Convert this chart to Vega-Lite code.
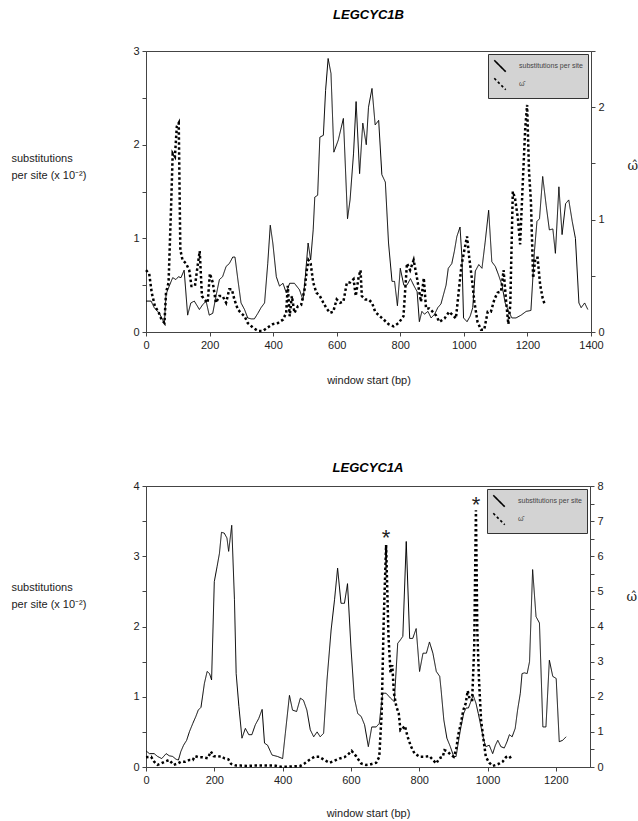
{
  "$schema": "https://vega.github.io/schema/vega-lite/v6.json",
  "padding": {"left": 10, "top": 8, "right": 0, "bottom": 0},
  "datasets": {
    "b_sub": [
      {"start":0,"value":0.33},{"start":16,"value":0.33},{"start":26,"value":0.26},{"start":42,"value":0.2},{"start":52,"value":0.13},{"start":58,"value":0.1},{"start":63,"value":0.4},{"start":73,"value":0.49},{"start":84,"value":0.58},{"start":94,"value":0.56},{"start":102,"value":0.59},{"start":110,"value":0.58},{"start":120,"value":0.66},{"start":131,"value":0.18},{"start":141,"value":0.31},{"start":152,"value":0.33},{"start":168,"value":0.24},{"start":178,"value":0.29},{"start":189,"value":0.33},{"start":199,"value":0.18},{"start":210,"value":0.2},{"start":220,"value":0.38},{"start":231,"value":0.56},{"start":241,"value":0.59},{"start":252,"value":0.7},{"start":262,"value":0.73},{"start":273,"value":0.8},{"start":280,"value":0.8},{"start":289,"value":0.56},{"start":299,"value":0.31},{"start":310,"value":0.24},{"start":320,"value":0.15},{"start":331,"value":0.14},{"start":341,"value":0.14},{"start":352,"value":0.2},{"start":362,"value":0.26},{"start":373,"value":0.31},{"start":383,"value":0.73},{"start":391,"value":1.14},{"start":399,"value":0.95},{"start":410,"value":0.59},{"start":420,"value":0.49},{"start":431,"value":0.52},{"start":441,"value":0.42},{"start":452,"value":0.52},{"start":467,"value":0.52},{"start":483,"value":0.45},{"start":494,"value":0.34},{"start":501,"value":0.58},{"start":510,"value":0.95},{"start":518,"value":0.77},{"start":526,"value":1.09},{"start":531,"value":1.44},{"start":540,"value":1.46},{"start":547,"value":2.08},{"start":558,"value":2.1},{"start":565,"value":2.58},{"start":573,"value":2.92},{"start":582,"value":2.76},{"start":591,"value":1.92},{"start":605,"value":2.05},{"start":621,"value":2.28},{"start":634,"value":1.21},{"start":642,"value":1.41},{"start":653,"value":1.91},{"start":661,"value":2.46},{"start":672,"value":1.69},{"start":682,"value":2.23},{"start":693,"value":2.0},{"start":700,"value":2.4},{"start":711,"value":2.6},{"start":721,"value":2.21},{"start":732,"value":2.26},{"start":742,"value":1.68},{"start":753,"value":1.6},{"start":763,"value":0.95},{"start":774,"value":0.54},{"start":782,"value":0.54},{"start":791,"value":0.28},{"start":800,"value":0.68},{"start":811,"value":0.5},{"start":821,"value":0.5},{"start":832,"value":0.57},{"start":842,"value":0.5},{"start":853,"value":0.43},{"start":860,"value":0.11},{"start":868,"value":0.22},{"start":876,"value":0.19},{"start":887,"value":0.22},{"start":897,"value":0.15},{"start":908,"value":0.19},{"start":918,"value":0.26},{"start":928,"value":0.3},{"start":944,"value":0.5},{"start":951,"value":0.68},{"start":962,"value":0.73},{"start":970,"value":0.86},{"start":978,"value":1.02},{"start":988,"value":1.12},{"start":994,"value":0.79},{"start":999,"value":0.15},{"start":1010,"value":0.11},{"start":1020,"value":0.17},{"start":1028,"value":0.26},{"start":1036,"value":0.65},{"start":1047,"value":0.72},{"start":1057,"value":0.68},{"start":1067,"value":0.96},{"start":1078,"value":1.3},{"start":1088,"value":0.75},{"start":1099,"value":0.7},{"start":1109,"value":0.61},{"start":1120,"value":0.5},{"start":1130,"value":0.31},{"start":1141,"value":0.22},{"start":1151,"value":0.15},{"start":1164,"value":0.15},{"start":1180,"value":0.18},{"start":1196,"value":0.22},{"start":1211,"value":0.23},{"start":1222,"value":0.86},{"start":1230,"value":1.18},{"start":1238,"value":1.21},{"start":1248,"value":1.66},{"start":1259,"value":1.35},{"start":1269,"value":1.09},{"start":1280,"value":1.1},{"start":1288,"value":0.84},{"start":1299,"value":1.55},{"start":1309,"value":1.04},{"start":1320,"value":1.37},{"start":1330,"value":1.41},{"start":1341,"value":1.18},{"start":1351,"value":1.0},{"start":1362,"value":0.31},{"start":1369,"value":0.26},{"start":1380,"value":0.31},{"start":1390,"value":0.24}
    ],
    "b_omega": [
      {"start":0,"value":0.55},{"start":10,"value":0.52},{"start":18,"value":0.35},{"start":28,"value":0.23},{"start":39,"value":0.18},{"start":49,"value":0.11},{"start":58,"value":0.08},{"start":63,"value":0.35},{"start":71,"value":0.44},{"start":79,"value":1.12},{"start":84,"value":1.59},{"start":91,"value":1.56},{"start":97,"value":1.83},{"start":103,"value":1.86},{"start":108,"value":0.73},{"start":115,"value":0.64},{"start":126,"value":0.61},{"start":136,"value":0.55},{"start":143,"value":0.41},{"start":154,"value":0.41},{"start":162,"value":0.58},{"start":169,"value":0.72},{"start":176,"value":0.32},{"start":183,"value":0.29},{"start":194,"value":0.26},{"start":201,"value":0.52},{"start":210,"value":0.44},{"start":220,"value":0.26},{"start":231,"value":0.32},{"start":241,"value":0.32},{"start":252,"value":0.26},{"start":262,"value":0.38},{"start":270,"value":0.38},{"start":278,"value":0.29},{"start":289,"value":0.2},{"start":299,"value":0.17},{"start":310,"value":0.14},{"start":320,"value":0.08},{"start":336,"value":0.04},{"start":352,"value":0.01},{"start":368,"value":0.01},{"start":383,"value":0.04},{"start":399,"value":0.07},{"start":415,"value":0.08},{"start":431,"value":0.11},{"start":441,"value":0.17},{"start":446,"value":0.41},{"start":452,"value":0.14},{"start":459,"value":0.32},{"start":467,"value":0.17},{"start":478,"value":0.23},{"start":488,"value":0.24},{"start":499,"value":0.38},{"start":506,"value":0.55},{"start":511,"value":0.64},{"start":518,"value":0.61},{"start":526,"value":0.44},{"start":536,"value":0.35},{"start":547,"value":0.32},{"start":558,"value":0.26},{"start":568,"value":0.21},{"start":579,"value":0.17},{"start":589,"value":0.18},{"start":600,"value":0.29},{"start":611,"value":0.26},{"start":621,"value":0.27},{"start":632,"value":0.44},{"start":642,"value":0.44},{"start":653,"value":0.47},{"start":660,"value":0.32},{"start":669,"value":0.49},{"start":675,"value":0.55},{"start":679,"value":0.32},{"start":690,"value":0.29},{"start":700,"value":0.29},{"start":711,"value":0.26},{"start":721,"value":0.18},{"start":732,"value":0.15},{"start":748,"value":0.11},{"start":763,"value":0.07},{"start":779,"value":0.05},{"start":795,"value":0.08},{"start":810,"value":0.14},{"start":821,"value":0.61},{"start":831,"value":0.55},{"start":842,"value":0.64},{"start":852,"value":0.49},{"start":865,"value":0.27},{"start":874,"value":0.48},{"start":881,"value":0.21},{"start":891,"value":0.21},{"start":902,"value":0.18},{"start":912,"value":0.15},{"start":923,"value":0.09},{"start":939,"value":0.12},{"start":954,"value":0.18},{"start":965,"value":0.15},{"start":975,"value":0.12},{"start":986,"value":0.42},{"start":993,"value":0.6},{"start":1001,"value":0.72},{"start":1010,"value":0.85},{"start":1017,"value":0.66},{"start":1025,"value":0.48},{"start":1033,"value":0.27},{"start":1043,"value":0.09},{"start":1054,"value":0.02},{"start":1064,"value":0.02},{"start":1075,"value":0.18},{"start":1085,"value":0.18},{"start":1096,"value":0.29},{"start":1106,"value":0.35},{"start":1117,"value":0.36},{"start":1125,"value":0.55},{"start":1133,"value":0.27},{"start":1140,"value":0.07},{"start":1146,"value":0.24},{"start":1154,"value":1.25},{"start":1161,"value":1.19},{"start":1170,"value":1.01},{"start":1177,"value":0.78},{"start":1186,"value":1.37},{"start":1193,"value":1.81},{"start":1199,"value":2.02},{"start":1205,"value":1.43},{"start":1211,"value":1.16},{"start":1218,"value":0.48},{"start":1225,"value":0.66},{"start":1232,"value":0.66},{"start":1240,"value":0.42},{"start":1248,"value":0.3},{"start":1255,"value":0.24}
    ],
    "a_sub": [
      {"start":0,"value":0.23},{"start":10,"value":0.19},{"start":24,"value":0.19},{"start":34,"value":0.15},{"start":46,"value":0.12},{"start":59,"value":0.19},{"start":68,"value":0.16},{"start":78,"value":0.15},{"start":88,"value":0.11},{"start":95,"value":0.1},{"start":102,"value":0.22},{"start":110,"value":0.31},{"start":119,"value":0.38},{"start":127,"value":0.5},{"start":137,"value":0.62},{"start":146,"value":0.72},{"start":153,"value":0.81},{"start":161,"value":0.85},{"start":171,"value":1.19},{"start":179,"value":1.36},{"start":186,"value":1.33},{"start":192,"value":1.24},{"start":200,"value":2.64},{"start":208,"value":2.85},{"start":215,"value":3.04},{"start":221,"value":3.34},{"start":229,"value":3.33},{"start":237,"value":3.26},{"start":242,"value":3.07},{"start":251,"value":3.44},{"start":259,"value":2.38},{"start":264,"value":1.33},{"start":272,"value":0.86},{"start":281,"value":0.41},{"start":291,"value":0.55},{"start":301,"value":0.46},{"start":310,"value":0.46},{"start":320,"value":0.6},{"start":330,"value":0.69},{"start":340,"value":0.82},{"start":347,"value":0.34},{"start":356,"value":0.31},{"start":369,"value":0.17},{"start":385,"value":0.15},{"start":400,"value":0.12},{"start":408,"value":0.48},{"start":420,"value":1.02},{"start":429,"value":0.81},{"start":441,"value":0.79},{"start":452,"value":0.98},{"start":461,"value":0.95},{"start":471,"value":0.81},{"start":481,"value":0.53},{"start":491,"value":0.43},{"start":501,"value":0.5},{"start":510,"value":0.43},{"start":520,"value":0.48},{"start":530,"value":1.24},{"start":542,"value":1.95},{"start":552,"value":2.38},{"start":561,"value":2.83},{"start":571,"value":2.33},{"start":581,"value":2.33},{"start":590,"value":2.61},{"start":600,"value":1.71},{"start":610,"value":0.98},{"start":620,"value":0.76},{"start":630,"value":0.72},{"start":640,"value":0.6},{"start":651,"value":0.29},{"start":661,"value":0.57},{"start":674,"value":0.57},{"start":683,"value":0.62},{"start":693,"value":1.05},{"start":703,"value":1.05},{"start":716,"value":0.98},{"start":727,"value":0.93},{"start":737,"value":1.76},{"start":745,"value":1.81},{"start":752,"value":1.86},{"start":762,"value":3.21},{"start":772,"value":1.83},{"start":781,"value":1.83},{"start":791,"value":1.97},{"start":801,"value":1.36},{"start":811,"value":1.62},{"start":821,"value":1.62},{"start":830,"value":1.78},{"start":840,"value":1.62},{"start":850,"value":1.36},{"start":860,"value":1.29},{"start":864,"value":1.1},{"start":872,"value":0.67},{"start":881,"value":0.41},{"start":891,"value":0.29},{"start":901,"value":0.15},{"start":908,"value":0.15},{"start":914,"value":0.34},{"start":922,"value":0.57},{"start":930,"value":0.76},{"start":937,"value":0.84},{"start":944,"value":0.84},{"start":951,"value":0.93},{"start":958,"value":1.02},{"start":966,"value":0.91},{"start":973,"value":0.76},{"start":981,"value":0.57},{"start":989,"value":0.38},{"start":995,"value":0.29},{"start":1005,"value":0.31},{"start":1015,"value":0.19},{"start":1023,"value":0.31},{"start":1030,"value":0.38},{"start":1039,"value":0.29},{"start":1049,"value":0.27},{"start":1057,"value":0.36},{"start":1064,"value":0.46},{"start":1072,"value":0.43},{"start":1081,"value":0.55},{"start":1088,"value":0.81},{"start":1096,"value":1.05},{"start":1101,"value":1.33},{"start":1108,"value":1.34},{"start":1116,"value":1.33},{"start":1123,"value":1.5},{"start":1132,"value":2.81},{"start":1142,"value":2.14},{"start":1152,"value":2.05},{"start":1162,"value":0.57},{"start":1171,"value":0.57},{"start":1181,"value":1.52},{"start":1191,"value":1.29},{"start":1201,"value":1.26},{"start":1210,"value":0.36},{"start":1220,"value":0.38},{"start":1230,"value":0.43}
    ],
    "a_omega": [
      {"start":0,"value":0.28},{"start":15,"value":0.29},{"start":24,"value":0.15},{"start":34,"value":0.06},{"start":44,"value":0.1},{"start":54,"value":0.15},{"start":68,"value":0.2},{"start":81,"value":0.06},{"start":93,"value":0.1},{"start":102,"value":0.15},{"start":115,"value":0.15},{"start":127,"value":0.2},{"start":137,"value":0.2},{"start":143,"value":0.31},{"start":153,"value":0.28},{"start":166,"value":0.28},{"start":181,"value":0.25},{"start":190,"value":0.44},{"start":198,"value":0.31},{"start":208,"value":0.29},{"start":220,"value":0.31},{"start":229,"value":0.25},{"start":241,"value":0.22},{"start":249,"value":0.09},{"start":264,"value":0.04},{"start":278,"value":0.04},{"start":298,"value":0.03},{"start":317,"value":0.04},{"start":337,"value":0.04},{"start":356,"value":0.04},{"start":376,"value":0.04},{"start":395,"value":0.01},{"start":415,"value":0.01},{"start":435,"value":0.02},{"start":452,"value":0.03},{"start":464,"value":0.1},{"start":478,"value":0.2},{"start":493,"value":0.29},{"start":507,"value":0.29},{"start":522,"value":0.2},{"start":537,"value":0.12},{"start":552,"value":0.18},{"start":566,"value":0.24},{"start":581,"value":0.28},{"start":593,"value":0.37},{"start":602,"value":0.46},{"start":615,"value":0.31},{"start":630,"value":0.1},{"start":644,"value":0.06},{"start":659,"value":0.08},{"start":674,"value":0.12},{"start":683,"value":0.29},{"start":690,"value":1.53},{"start":696,"value":4.18},{"start":703,"value":6.32},{"start":710,"value":3.71},{"start":716,"value":2.67},{"start":721,"value":2.9},{"start":726,"value":2.1},{"start":733,"value":1.72},{"start":740,"value":1.53},{"start":745,"value":1.05},{"start":752,"value":1.1},{"start":758,"value":1.17},{"start":766,"value":0.86},{"start":776,"value":0.58},{"start":786,"value":0.39},{"start":801,"value":0.29},{"start":815,"value":0.29},{"start":830,"value":0.31},{"start":840,"value":0.2},{"start":850,"value":0.1},{"start":859,"value":0.25},{"start":869,"value":0.29},{"start":874,"value":0.48},{"start":883,"value":0.44},{"start":893,"value":0.34},{"start":901,"value":0.29},{"start":908,"value":0.48},{"start":914,"value":0.91},{"start":922,"value":1.24},{"start":929,"value":1.62},{"start":936,"value":1.81},{"start":942,"value":2.17},{"start":948,"value":1.91},{"start":955,"value":1.91},{"start":961,"value":3.43},{"start":966,"value":7.31},{"start":970,"value":3.9},{"start":975,"value":2.48},{"start":981,"value":1.34},{"start":989,"value":0.72},{"start":995,"value":0.29},{"start":1005,"value":0.12},{"start":1015,"value":0.03},{"start":1025,"value":0.06},{"start":1035,"value":0.1},{"start":1044,"value":0.15},{"start":1054,"value":0.28},{"start":1064,"value":0.31},{"start":1071,"value":0.2}
    ],
    "a_stars": [
      {"start":703,"value":6.7,"note":"*"},{"start":966,"value":7.62,"note":"*"}
    ]
  },
  "vconcat": [
    {
      "title": {"text": "LEGCYC1B", "offset": 23},
      "width": 445,
      "height": 281,
      "layer": [
        {
          "data": {"name": "b_sub"},
          "mark": {"type": "line", "color": "black", "strokeWidth": 1},
          "encoding": {
            "x": {
              "field": "start", "type": "quantitative",
              "scale": {"domain": [0, 1400], "nice": false},
              "axis": {
                "values": [0,50,100,150,200,250,300,350,400,450,500,550,600,650,700,750,800,850,900,950,1000,1050,1100,1150,1200,1250,1300,1350,1400],
                "labelExpr": "datum.value % 200 === 0 ? format(datum.value, 'd') : ''",
                "labelOverlap": false,
                "title": "window start (bp)",
                "titlePadding": 24
              }
            },
            "y": {
              "field": "value", "type": "quantitative",
              "scale": {"domain": [0, 3], "nice": false},
              "axis": {
                "orient": "left",
                "values": [0,0.5,1,1.5,2,2.5,3],
                "labelExpr": "datum.value % 1 === 0 ? format(datum.value, 'd') : ''",
                "labelOverlap": false,
                "title": ["substitutions", "per site (x 10⁻²)"],
                "titleX": -135, "titleY": 107
              }
            },
            "strokeDash": {
              "datum": "substitutions per site", "type": "nominal",
              "scale": {"domain": ["substitutions per site", "ω̂"], "range": [[1, 0], [2.5, 2.5]]},
              "legend": {"title": null}
            }
          }
        },
        {
          "data": {"name": "b_omega"},
          "mark": {"type": "line", "color": "black", "strokeWidth": 2.5, "strokeCap": "butt"},
          "encoding": {
            "x": {"field": "start", "type": "quantitative"},
            "y": {
              "field": "value", "type": "quantitative",
              "scale": {"domain": [0, 2.5], "nice": false},
              "axis": {
                "orient": "right",
                "values": [0,0.5,1,1.5,2,2.5],
                "labelExpr": "datum.value % 1 === 0 ? format(datum.value, 'd') : ''",
                "labelOverlap": false,
                "title": "ω̂",
                "titleX": 36, "titleY": 114, "titleFont": "DejaVu Serif", "titleFontSize": 13
              }
            },
            "strokeDash": {"datum": "ω̂", "type": "nominal"}
          }
        }
      ],
      "resolve": {"scale": {"y": "independent"}}
    },
    {
      "title": {"text": "LEGCYC1A", "offset": 5},
      "width": 444,
      "height": 281,
      "layer": [
        {
          "data": {"name": "a_sub"},
          "mark": {"type": "line", "color": "black", "strokeWidth": 1},
          "encoding": {
            "x": {
              "field": "start", "type": "quantitative",
              "scale": {"domain": [0, 1300], "nice": false},
              "axis": {
                "values": [0,50,100,150,200,250,300,350,400,450,500,550,600,650,700,750,800,850,900,950,1000,1050,1100,1150,1200,1250,1300],
                "labelExpr": "datum.value % 200 === 0 ? format(datum.value, 'd') : ''",
                "labelOverlap": false,
                "title": "window start (bp)",
                "titlePadding": 22
              }
            },
            "y": {
              "field": "value", "type": "quantitative",
              "scale": {"domain": [0, 4], "nice": false},
              "axis": {
                "orient": "left",
                "values": [0,0.5,1,1.5,2,2.5,3,3.5,4],
                "labelExpr": "datum.value % 1 === 0 ? format(datum.value, 'd') : ''",
                "labelOverlap": false,
                "title": ["substitutions", "per site (x 10⁻²)"],
                "titleX": -135, "titleY": 101
              }
            },
            "strokeDash": {
              "datum": "substitutions per site", "type": "nominal",
              "scale": {"domain": ["substitutions per site", "ω̂"], "range": [[1, 0], [2.5, 2.5]]},
              "legend": {"title": null}
            }
          }
        },
        {
          "encoding": {
            "x": {"field": "start", "type": "quantitative"},
            "y": {
              "field": "value", "type": "quantitative",
              "scale": {"domain": [0, 8], "nice": false},
              "axis": {
                "orient": "right",
                "values": [0,0.5,1,1.5,2,2.5,3,3.5,4,4.5,5,5.5,6,6.5,7,7.5,8],
                "labelExpr": "datum.value % 1 === 0 ? format(datum.value, 'd') : ''",
                "labelOverlap": false,
                "title": "ω̂",
                "titleX": 36, "titleY": 110, "titleFont": "DejaVu Serif", "titleFontSize": 13
              }
            }
          },
          "layer": [
            {
              "data": {"name": "a_omega"},
              "mark": {"type": "line", "color": "black", "strokeWidth": 2.5, "strokeCap": "butt"},
              "encoding": {
                "strokeDash": {"datum": "ω̂", "type": "nominal"}
              }
            },
            {
              "data": {"name": "a_stars"},
              "mark": {"type": "text", "fontSize": 22, "baseline": "middle", "dy": 6, "color": "#222"},
              "encoding": {
                "text": {"field": "note"}
              }
            }
          ]
        }
      ],
      "resolve": {"scale": {"y": "independent"}}
    }
  ],
  "spacing": 75,
  "resolve": {
    "scale": {"x": "independent", "y": "independent", "strokeDash": "independent"},
    "legend": {"strokeDash": "independent"}
  },
  "config": {
    "font": "Liberation Sans",
    "view": {"stroke": "#444"},
    "title": {"fontSize": 13, "fontWeight": "bold", "fontStyle": "italic", "color": "black", "anchor": "middle"},
    "axis": {
      "grid": false,
      "domainColor": "#444",
      "tickColor": "#444",
      "tickSize": 4,
      "labelFontSize": 11,
      "labelColor": "#222",
      "labelPadding": 3,
      "labelFlush": false,
      "titleFontSize": 11,
      "titleFontWeight": "normal",
      "titleColor": "#222",
      "titleAngle": 0,
      "titleAlign": "left",
      "titleBaseline": "middle",
      "titleLineHeight": 17
    },
    "axisX": {"titleAlign": "center", "titleBaseline": "top"},
    "legend": {
      "orient": "top-right",
      "offset": 3,
      "fillColor": "#d3d3d3",
      "strokeColor": "#333",
      "padding": 5,
      "labelFontSize": 7,
      "labelColor": "#444",
      "labelOffset": 12,
      "symbolType": "M-1,-1L1,1",
      "symbolSize": 130,
      "symbolStrokeColor": "black",
      "symbolStrokeWidth": 1.6,
      "rowPadding": 0
    }
  }
}
